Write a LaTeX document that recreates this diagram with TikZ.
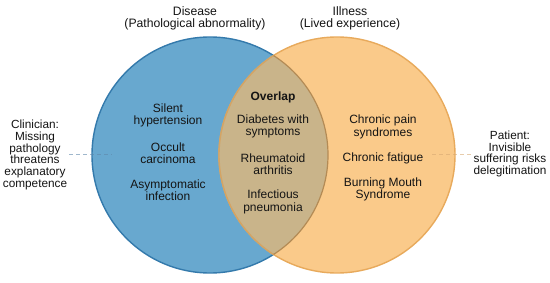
\documentclass[tikz,border=0pt]{standalone}
\usepackage{fontspec}
\setmainfont{Liberation Sans}
\definecolor{bluefill}{RGB}{104,168,207}
\definecolor{bluedraw}{RGB}{52,122,172}
\definecolor{orfill}{RGB}{250,202,138}
\definecolor{ordraw}{RGB}{232,170,92}
\definecolor{lensfill}{RGB}{201,180,138}
\definecolor{lensedge}{RGB}{212,164,100}
\definecolor{txt}{RGB}{20,20,20}
\definecolor{ldash}{RGB}{95,135,170}
\definecolor{rdash}{RGB}{215,170,115}
\tikzset{
  lbl/.style={align=center, text=txt, font=\fontsize{12}{12.5}\selectfont, inner sep=0pt},
  side/.style={align=center, text=txt, font=\fontsize{11.8}{11.8}\selectfont, inner sep=0pt},
  ttl/.style={align=center, text=txt, font=\fontsize{12.2}{12.5}\selectfont, inner sep=0pt},
  conn/.style={dashed, dash pattern=on 4pt off 3pt, line width=1pt, opacity=0.6}
}
\begin{document}
\begin{tikzpicture}[x=1pt,y=-1pt]
\useasboundingbox[fill=white] (0,0) rectangle (550,283);
% circles
\fill[bluefill] (210,155) circle[radius=118];
\draw[bluedraw, line width=1.4pt] (210,155) circle[radius=118];
\fill[orfill] (337,155) circle[radius=118];
\draw[ordraw, line width=1.4pt] (337,155) circle[radius=118];
\begin{scope}
  \clip (210,155) circle[radius=118];
  \fill[lensfill] (337,155) circle[radius=118];
  \draw[lensedge, line width=1.4pt] (337,155) circle[radius=118];
\end{scope}
\begin{scope}
  \clip (337,155) circle[radius=118];
  \draw[lensedge!85!black, line width=1.2pt] (210,155) circle[radius=118];
\end{scope}
% titles
\node[ttl] (tdis) at (195,18.5) {Disease\\(Pathological abnormality)};
\node[ttl] (till) at (350,18.5) {Illness\\(Lived experience)};
% left group
\node[lbl] (l1) at (168,115.5) {Silent\\hypertension};
\node[lbl] (l2) at (168,153) {Occult\\carcinoma};
\node[lbl] (l3) at (168,190) {Asymptomatic\\infection};
% overlap
\node[lbl, font=\fontsize{12}{12.5}\selectfont\bfseries] (o0) at (273,97) {Overlap};
\node[lbl] (o1) at (273,126.5) {Diabetes with\\symptoms};
\node[lbl] (o2) at (273,164) {Rheumatoid\\arthritis};
\node[lbl] (o3) at (273,202) {Infectious\\pneumonia};
% right group
\node[lbl] (r1) at (383,127) {Chronic pain\\syndromes};
\node[lbl] (r2) at (383,158) {Chronic fatigue};
\node[lbl] (r3) at (383,189.5) {Burning Mouth\\Syndrome};
% side labels
\node[side] (clin) at (35,155) {Clinician:\\Missing\\pathology\\threatens\\explanatory\\competence};
\node[side] (pat) at (510,154) {Patient:\\Invisible\\suffering risks\\delegitimation};
\coordinate (lend) at (112,155);
\coordinate (rend) at (432,155);
\draw[conn, ldash] ([xshift=2pt]clin.east) -- (lend);
\draw[conn, rdash] (rend) -- ([xshift=-2pt]pat.west |- rend);
\end{tikzpicture}
\end{document}
